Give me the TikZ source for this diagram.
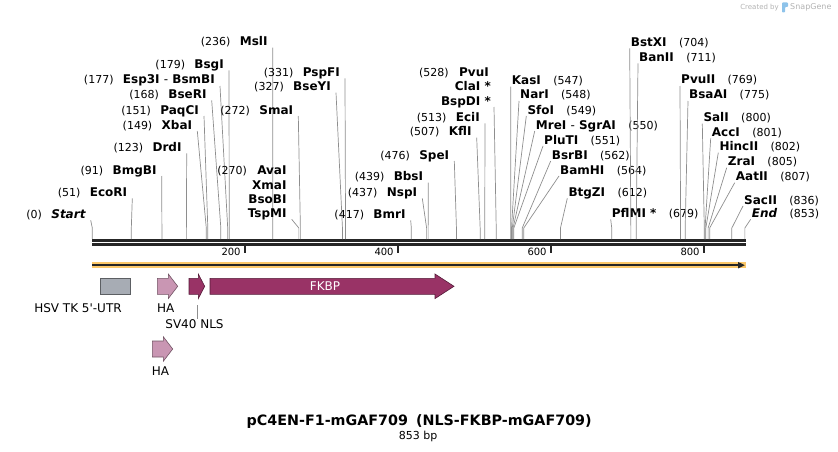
\documentclass[tikz,border=0pt]{standalone}
\usepackage{fontspec}
\setmainfont{DejaVu Sans}
\usetikzlibrary{arrows.meta,positioning,calc}

\definecolor{leadgray}{HTML}{8E8E8E}
\definecolor{bbone}{HTML}{262626}
\definecolor{orangeband}{HTML}{FCC86A}
\definecolor{utrgray}{HTML}{A7ACB4}
\definecolor{hapink}{HTML}{C996B3}
\definecolor{nlsred}{HTML}{993366}
\definecolor{snapblue}{HTML}{8EC3EA}

\begin{document}
\begin{tikzpicture}[x=1pt, y=-1pt,
    enz/.style={font=\bfseries\fontsize{12}{13}\selectfont, inner sep=0pt},
    bpnum/.style={font=\fontsize{11}{12}\selectfont, inner sep=0pt},
    leader/.style={draw=leadgray, line width=0.7pt},
    ticklbl/.style={font=\fontsize{10}{11}\selectfont, inner sep=0pt},
    featlbl/.style={font=\fontsize{12}{13}\selectfont, inner sep=0pt},
    ha/.style={fill=hapink, draw=hapink!55!black, line width=0.6pt},
    nls/.style={fill=nlsred, draw=nlsred!55!black, line width=0.6pt},
]
\useasboundingbox (0,0) rectangle (838,452);

% credit line
\node[font=\fontsize{7}{8}\selectfont, text=gray!60, anchor=east, inner sep=0pt] (credit) at (779,7.5) {Created by};
\node[font=\fontsize{8}{9}\selectfont, text=gray!60, anchor=west, inner sep=0pt] (snapgene) at (790,7.5) {SnapGene};
\fill[snapblue, rounded corners=0.8pt] (782,2.5) -- (788,2.5) -- (788,7) -- (785,7) -- (785,12.5) -- (782,12.5) -- cycle;

% backbone
\coordinate (bbL) at (92.3,240.5);
\coordinate (bbR) at (745.7,240.5);
\draw[bbone, line width=2.7pt] (bbL) -- (bbR);
\draw[bbone, line width=2.7pt] ([yshift=-3.9pt]bbL) -- ([yshift=-3.9pt]bbR);

\foreach \t in {200,400,600,800}{
  \coordinate (tka\t) at (92.3+0.765*\t-0.5,245.5);
  \coordinate (tkb\t) at (92.3+0.765*\t-0.5,253);
  \draw[bbone, line width=1.6pt] (tka\t) -- (tkb\t);
  \node[ticklbl, anchor=east] (tl\t) at (92.3+0.765*\t-4.5,252.3) {\t};
}

% sites labelled on the left
\foreach \id/\yc/\xr/\bp/\nm in {
  mslI/41.7/267.7/236/MslI,
  bsgI/64.3/224/179/BsgI,
  esp3I/80/215/177/{Esp3I {\mdseries -} BsmBI},
  bseRI/94.3/206.7/168/BseRI,
  paqCI/110/199/151/PaqCI,
  xbaI/125/192.3/149/XbaI,
  drdI/147.3/181.7/123/DrdI,
  bmgBI/170/156.7/91/BmgBI,
  ecoRI/192.3/127.3/51/EcoRI,
  startsite/214.3/85.7/0/{\itshape Start},
  smaI/110/293.3/272/SmaI,
  pspFI/72.3/340/331/PspFI,
  bseYI/86.7/331/327/BseYI,
  eciI/117.3/480/513/EciI,
  kflI/131.7/471.7/507/KflI,
  speI/155/449.3/476/SpeI,
  bbsI/176.7/423.3/439/BbsI,
  nspI/192.3/417.3/437/NspI,
  bmrI/214.3/405.7/417/BmrI}{
  \node[enz, anchor=base east] (\id) at (\xr,\yc+4) {\nm};
  \node[bpnum, anchor=base east] (\id-n) at ([xshift=-9pt]\id.base west) {(\bp)};
  \coordinate (\id-k) at (92.3+0.765*\bp,228);
  \coordinate (\id-s) at (92.3+0.765*\bp,239);
  \draw[leader] ([xshift=5pt,yshift=-2pt]\id.base east) -- (\id-k) -- (\id-s);
}

% sites labelled on the right
\foreach \id/\yc/\xl/\bp/\nm in {
  kasI/80.7/511.7/547/KasI,
  narI/95/520/548/NarI,
  sfoI/110/527.3/549/SfoI,
  mreI/125/535.7/550/{MreI {\mdseries -} SgrAI},
  pluTI/140/544/551/PluTI,
  bsrBI/155/551.7/562/BsrBI,
  bamHI/170/560/564/BamHI,
  btgZI/192.3/568.3/612/BtgZI,
  pflMI/213.3/611.7/679/{PflMI *},
  bstXI/42.3/630.7/704/BstXI,
  banII/57.3/639/711/BanII,
  pvuII/80/681/769/PvuII,
  bsaAI/95/689/775/BsaAI,
  salI/117.7/703.3/800/SalI,
  accI/132.3/711.7/801/AccI,
  hincII/146.7/719.3/802/HincII,
  zraI/161.7/727.7/805/ZraI,
  aatII/176.7/735.7/807/AatII,
  sacII/200/744/836/SacII,
  endsite/213.3/751.7/853/{\itshape End}}{
  \node[enz, anchor=base west] (\id) at (\xl,\yc+4) {\nm};
  \node[bpnum, anchor=base west] (\id-n) at ([xshift=12pt]\id.base east) {(\bp)};
  \coordinate (\id-k) at (92.3+0.765*\bp,228);
  \coordinate (\id-s) at (92.3+0.765*\bp,239);
  \draw[leader] ([xshift=-1pt,yshift=-2pt]\id.base west) -- (\id-k) -- (\id-s);
}

% stacked site groups
\node[enz, anchor=base east] (avaI) at (286.7,174) {AvaI};
\node[enz, anchor=base east] (xmaI) at (286.7,189) {XmaI};
\node[enz, anchor=base east] (bsoBI) at (286.7,203) {BsoBI};
\node[enz, anchor=base east] (tspMI) at (286.7,217.3) {TspMI};
\node[bpnum, anchor=base east] (avaI-n) at ([xshift=-10pt]avaI.base west) {(270)};
\coordinate (tspMI-k) at (92.3+0.765*270,228);
\coordinate (tspMI-s) at (92.3+0.765*270,239);
\draw[leader] ([xshift=5pt,yshift=-2pt]tspMI.base east) -- (tspMI-k) -- (tspMI-s);

\node[enz, anchor=base east] (pvuI) at (489,76.3) {PvuI};
\node[enz, anchor=base east] (claI) at (491,90) {ClaI *};
\node[enz, anchor=base east] (bspDI) at (491,105) {BspDI *};
\node[bpnum, anchor=base east] (pvuI-n) at ([xshift=-10pt]pvuI.base west) {(528)};
\coordinate (bspDI-k) at (92.3+0.765*528,228);
\coordinate (bspDI-s) at (92.3+0.765*528,239);
\draw[leader] ([xshift=3pt,yshift=-2pt]bspDI.base east) -- (bspDI-k) -- (bspDI-s);

% features
\coordinate (oaL) at (92.3,265.2);
\coordinate (oaR) at (746,265.2);
\draw[orangeband, line width=6.5pt] (oaL) -- (oaR);
\draw[bbone, line width=1.8pt, -{Triangle[length=7pt,width=6pt]}] (oaL) -- ([xshift=-1pt]oaR);

\draw[fill=utrgray, draw=utrgray!55!black, line width=0.6pt] (100,278.3) rectangle (130.7,294.3);
\draw[ha] (157.3,278.3) -- (168.3,278.3) -- (168.3,274) -- (177.7,286.3) -- (168.3,298.6) -- (168.3,294.3) -- (157.3,294.3) -- cycle;
\draw[nls] (189,278.3) -- (198.3,278.3) -- (198.3,274) -- (204.7,286.3) -- (198.3,298.6) -- (198.3,294.3) -- (189,294.3) -- cycle;
\draw[nls] (210,278.3) -- (435,278.3) -- (435,274) -- (454,286.3) -- (435,298.6) -- (435,294.3) -- (210,294.3) -- cycle;
\draw[ha] (152.3,341) -- (163.3,341) -- (163.3,336.7) -- (172.7,349) -- (163.3,361.3) -- (163.3,357) -- (152.3,357) -- cycle;

\node[featlbl, text=white] (fkbp) at (325,286.3) {FKBP};
\node[featlbl] (utr) at (78,307.7) {HSV TK 5\textquotesingle-UTR};
\node[featlbl] (ha1) at (165.7,307.7) {HA};
\node[featlbl] (ha2) at (160.5,370.7) {HA};
\node[featlbl] (sv40) at (194.5,324) {SV40 NLS};
\coordinate (sv40-t) at (197.7,305);
\draw[leader] (sv40-t) -- (sv40-t |- sv40.north);

% title
\node[font=\bfseries\fontsize{14.3}{16}\selectfont, inner sep=0pt] (title) at (419.2,422) {pC4EN-F1-mGAF709\hspace{8pt}(NLS-FKBP-mGAF709)};
\node[font=\fontsize{11}{12}\selectfont, inner sep=0pt] (size) at (418.2,436.5) {853 bp};
\end{tikzpicture}
\end{document}
